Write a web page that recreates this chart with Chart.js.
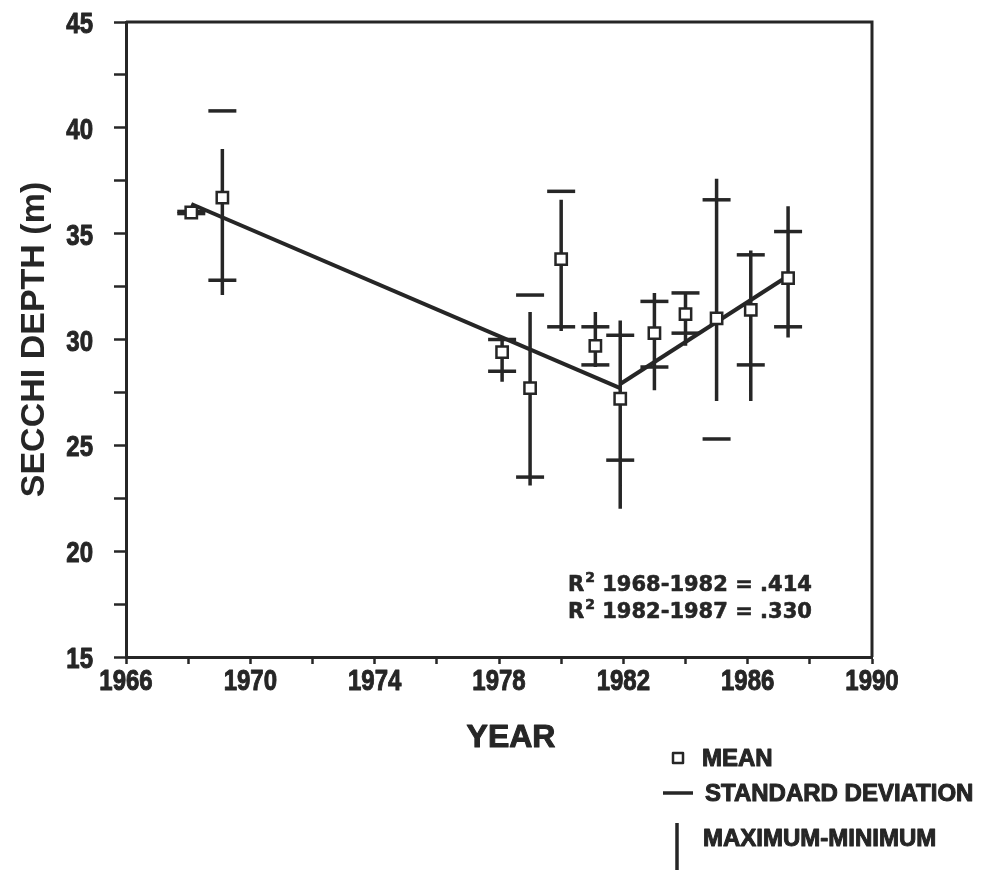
<!DOCTYPE html>
<html>
<head>
<meta charset="utf-8">
<script src="https://cdn.jsdelivr.net/npm/chart.js@4.4.0/dist/chart.umd.min.js"></script>
<style>
  html, body { margin: 0; padding: 0; background: #fff; }
  #secchiChart { display: block; }
</style>
</head>
<body>
<canvas id="secchiChart" width="982" height="874"></canvas>
<script>
// yearly secchi depth stats
const years   = [1968.1, 1969.1, 1978.1, 1979.0, 1980.0, 1981.1, 1981.9, 1983.0, 1984.0, 1985.0, 1986.1, 1987.3];
const means   = [36.0, 36.7, 29.4, 27.7, 33.8, 29.7, 27.2, 30.3, 31.2, 31.0, 31.4, 32.9];
const maxVals = [36.3, 39.0, 30.1, 31.3, 36.6, 31.3, 30.9, 32.2, 32.2, 37.6, 34.2, 36.3];
const minVals = [35.9, 32.1, 28.0, 23.1, 30.4, 28.7, 22.0, 27.6, 29.7, 27.1, 27.1, 30.1];
const sdHigh  = [36.05, 40.8, 30.0, 32.1, 37.0, 30.6, 30.2, 31.8, 32.2, 36.6, 34.0, 35.1];
const sdLow   = [35.95, 32.8, 28.5, 23.5, 30.6, 28.8, 24.3, 28.7, 30.3, 25.3, 28.8, 30.6];

// regression lines
const fit1Years = [1968.1, 1981.9];
const fit1Vals  = [36.4, 27.7];
const fit2Years = [1981.9, 1987.3];
const fit2Vals  = [27.9, 33.0];

const xTickLabels = [1966, 1970, 1974, 1978, 1982, 1986, 1990];
const yTickLabels = [15, 20, 25, 30, 35, 40, 45];

const rSquaredLines = [
  { span: '1968-1982', value: '.414' },
  { span: '1982-1987', value: '.330' }
];

const INK = '#262626';
const TICK_FONT = 'bold 30px "Liberation Sans", Arial, sans-serif';
const NARROW = 0.8; // tick numbers in the figure are a condensed face

function toPoints(xs, ys) {
  return xs.map(function(x, i) { return { x: x, y: ys[i] }; });
}

// one broken line: min->max for each year, gap in between
const rangeData = [];
years.forEach(function(yr, i) {
  rangeData.push({ x: yr, y: minVals[i] });
  rangeData.push({ x: yr, y: maxVals[i] });
  rangeData.push({ x: yr, y: null });
});

const sdData = toPoints(years, sdHigh).concat(toPoints(years, sdLow));

// the scan's lettering is heavy, so fill plus a thin stroke
function heavyText(ctx, text, x, y) {
  ctx.fillText(text, x, y);
  ctx.strokeText(text, x, y);
}

function narrowText(ctx, text, x, y, align) {
  ctx.save();
  ctx.translate(x, y);
  ctx.scale(NARROW, 1);
  ctx.textAlign = align;
  heavyText(ctx, text, 0, 0);
  ctx.restore();
}

// extras: box, tick numbers, axis title, r-squared notes and the legend
const extrasPlugin = {
  id: 'extras',
  afterDraw: function(chart) {
    const ctx = chart.ctx;
    const area = chart.chartArea;
    const xs = chart.scales.x;
    const ys = chart.scales.y;
    ctx.save();
    ctx.strokeStyle = INK;
    ctx.fillStyle = INK;
    ctx.lineWidth = 3;
    ctx.beginPath();
    ctx.moveTo(area.left, area.top);
    ctx.lineTo(area.right, area.top);
    ctx.lineTo(area.right, area.bottom);
    ctx.stroke();

    ctx.lineJoin = 'round';
    ctx.lineWidth = 1;

    // tick numbers
    ctx.font = TICK_FONT;
    ctx.textBaseline = 'alphabetic';
    xTickLabels.forEach(function(v) {
      narrowText(ctx, String(v), xs.getPixelForValue(v), area.bottom + 33, 'center');
    });
    yTickLabels.forEach(function(v) {
      narrowText(ctx, String(v), 93, ys.getPixelForValue(v) + 11, 'right');
    });

    // x title
    ctx.font = 'bold 32px "Liberation Sans", Arial, sans-serif';
    ctx.textAlign = 'center';
    ctx.textBaseline = 'middle';
    heavyText(ctx, 'YEAR', 511, 738);

    // R^2 notes
    ctx.textAlign = 'left';
    ctx.textBaseline = 'alphabetic';
    ctx.lineWidth = 0.6;
    rSquaredLines.forEach(function(line, i) {
      const base = 591 + i * 27;
      let x = 568;
      ctx.font = 'bold 21px "DejaVu Sans", sans-serif';
      heavyText(ctx, 'R', x, base);
      x += ctx.measureText('R').width + 1;
      ctx.font = 'bold 14px "DejaVu Sans", sans-serif';
      heavyText(ctx, '2', x, base - 9);
      x += ctx.measureText('2').width;
      ctx.font = 'bold 21px "DejaVu Sans", sans-serif';
      heavyText(ctx, ' ' + line.span + ' = ' + line.value, x, base);
    });

    // legend
    ctx.font = 'bold 24px "Liberation Sans", Arial, sans-serif';
    ctx.textBaseline = 'middle';
    ctx.lineWidth = 2.5;
    ctx.fillStyle = '#fff';
    ctx.fillRect(673, 753, 10, 10);
    ctx.strokeRect(673, 753, 10, 10);
    ctx.fillStyle = INK;

    ctx.lineWidth = 3.5;
    ctx.beginPath();
    ctx.moveTo(663, 793);
    ctx.lineTo(693, 793);
    ctx.stroke();

    ctx.beginPath();
    ctx.moveTo(677, 823);
    ctx.lineTo(677, 870);
    ctx.stroke();

    ctx.lineWidth = 1;
    heavyText(ctx, 'MEAN', 702, 759);
    heavyText(ctx, 'STANDARD DEVIATION', 705, 794);
    heavyText(ctx, 'MAXIMUM-MINIMUM', 703, 839);
    ctx.restore();
  }
};

const ctx = document.getElementById('secchiChart').getContext('2d');
const secchiChart = new Chart(ctx, {
  type: 'scatter',
  data: {
    datasets: [
      {
        label: 'Mean',
        data: toPoints(years, means),
        pointStyle: 'rect',
        pointRadius: 8,
        pointBackgroundColor: '#fff',
        pointBorderColor: INK,
        pointBorderWidth: 2.5,
        showLine: false
      },
      {
        label: 'Standard deviation',
        data: sdData,
        pointStyle: 'line',
        pointRadius: 14,
        pointBorderColor: INK,
        pointBorderWidth: 3.5,
        showLine: false
      },
      {
        label: 'Maximum-minimum',
        type: 'line',
        data: rangeData,
        borderColor: INK,
        borderWidth: 3.5,
        pointRadius: 0,
        spanGaps: false,
        fill: false
      },
      {
        label: 'Fit 1968-1982',
        type: 'line',
        data: toPoints(fit1Years, fit1Vals),
        borderColor: INK,
        borderWidth: 4,
        pointRadius: 0,
        fill: false
      },
      {
        label: 'Fit 1982-1987',
        type: 'line',
        data: toPoints(fit2Years, fit2Vals),
        borderColor: INK,
        borderWidth: 4,
        pointRadius: 0,
        fill: false
      }
    ]
  },
  options: {
    responsive: false,
    animation: false,
    devicePixelRatio: 1,
    layout: { padding: { top: 22, right: 110, left: 0, bottom: 0 } },
    plugins: {
      legend: { display: false },
      tooltip: { enabled: false }
    },
    scales: {
      x: {
        type: 'linear',
        min: 1966,
        max: 1990,
        afterFit: function(scale) { scale.height = 217; },
        border: { color: INK, width: 3 },
        grid: { drawOnChartArea: false, color: INK, tickLength: 7, tickWidth: 2.5 },
        ticks: { display: false, stepSize: 2, autoSkip: false }
      },
      y: {
        min: 15,
        max: 45,
        afterFit: function(scale) { scale.width = 126; },
        border: { color: INK, width: 3 },
        grid: { drawOnChartArea: false, color: INK, tickLength: 12, tickWidth: 2.5 },
        title: {
          display: true,
          text: 'SECCHI DEPTH (m)',
          color: INK,
          font: { family: "'Liberation Sans', Arial, sans-serif", size: 34, weight: 'bold' },
          padding: { top: 14, bottom: 0 }
        },
        ticks: { display: false, stepSize: 2.5, autoSkip: false }
      }
    }
  },
  plugins: [extrasPlugin]
});
</script>
</body>
</html>
